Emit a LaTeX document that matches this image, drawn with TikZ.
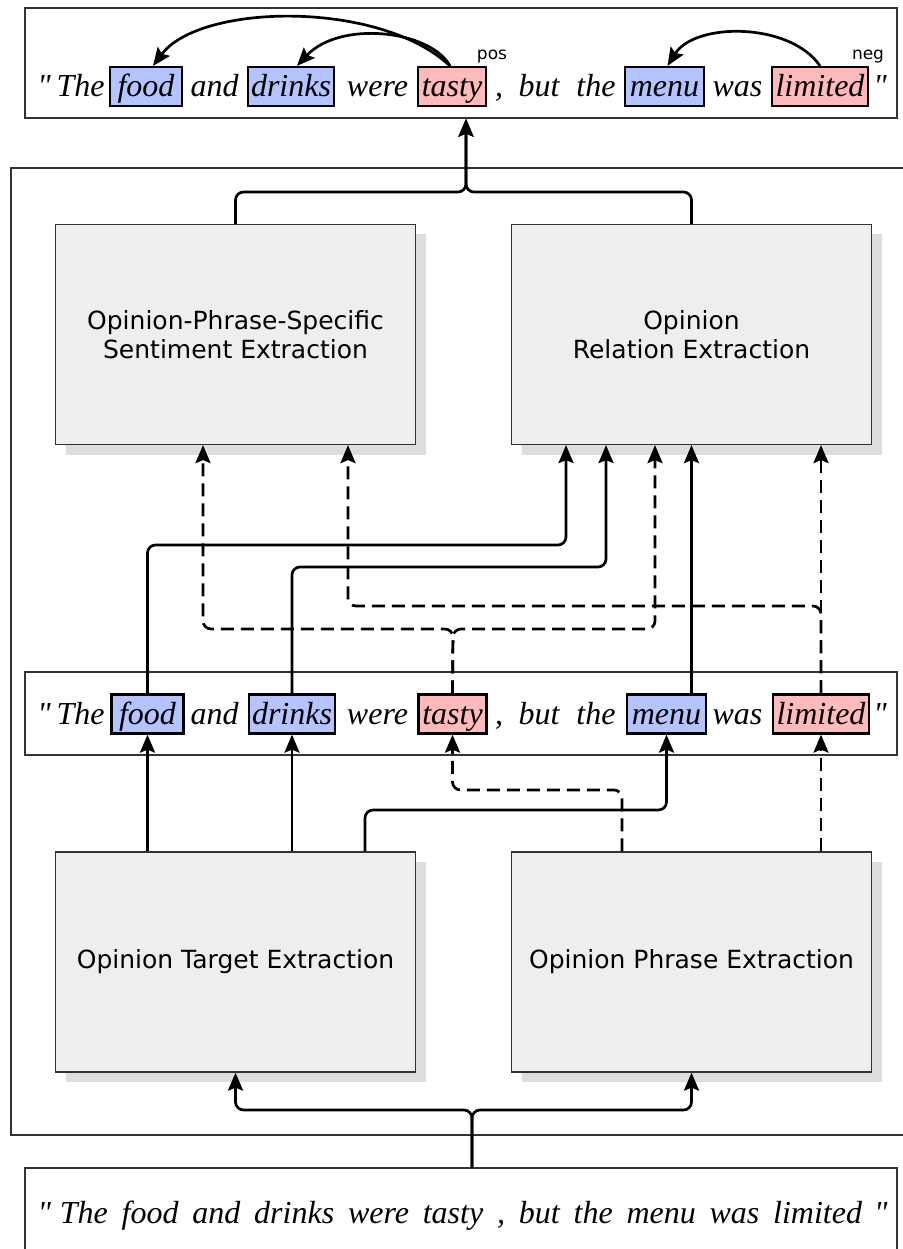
\documentclass[tikz,border=0pt]{standalone}
\usepackage{fontspec}
\setmainfont{Liberation Serif}[Ligatures=TeXOff]
\setsansfont{DejaVu Sans}
\usetikzlibrary{arrows.meta,shadows}
\definecolor{tgt}{HTML}{B4C4FF}
\definecolor{opn}{HTML}{FFBBBB}
\definecolor{procfill}{HTML}{EEEEEE}
\definecolor{shade}{HTML}{DDDDDD}
\definecolor{frm}{HTML}{333333}
\begin{document}
\begin{tikzpicture}[x=1pt,y=-1pt,
  word/.style={font=\itshape\fontsize{32}{36}\selectfont, text height=24pt, text depth=4pt, inner xsep=0pt, inner ysep=0pt},
  wbox/.style={word, draw=black, line width=2.2pt, minimum height=39pt},
  tbox/.style={wbox, fill=tgt},
  obox/.style={wbox, fill=opn},
  sent/.style={draw=frm, line width=1.3pt, fill=white},
  proc/.style={draw=frm, line width=1.2pt, fill=procfill, minimum width=360pt, minimum height=220pt,
    font=\sffamily\fontsize{25}{29}\selectfont, align=center,
    general shadow={fill=shade, shadow xshift=10pt, shadow yshift=-10pt}},
  tag/.style={font=\sffamily\fontsize{17}{20}\selectfont, inner sep=0pt, anchor=base},
  conn/.style={line width=2.7pt, rounded corners=8pt, -{Stealth[length=18pt,width=15pt,inset=3pt]}},
  dconn/.style={conn, dash pattern=on 13pt off 7pt},
  arc/.style={line width=2.7pt, -{Stealth[length=18pt,width=15pt,inset=3pt]}}
]
\useasboundingbox (0,0) rectangle (902,1249);

% outer container
\draw[draw=frm, line width=1.3pt] (915,168) -- (11,168) -- (11,1135) -- (915,1135);

% sentence frames
\node[sent, minimum width=872pt, minimum height=110pt] (topbox) at (461,63) {};
\node[sent, minimum width=872pt, minimum height=83pt] (midbox) at (461,713.5) {};
\node[sent, minimum width=872pt, minimum height=100pt] (botbox) at (461,1218) {};

% process boxes
\node[proc] (opsse) at (235.5,334.5) {Opinion-Phrase-Specific\\Sentiment Extraction};
\node[proc] (ore) at (691.5,334.5) {Opinion\\Relation Extraction};
\node[proc] (ote) at (235.5,962) {Opinion Target Extraction};
\node[proc] (ope) at (691.5,962) {Opinion Phrase Extraction};

% top sentence
\node[word] (t0) at (44,86.5) {"};
\node[word] (t1) at (80.5,86.5) {The};
\node[tbox, minimum width=72pt] (tfood) at (146,86.5) {food};
\node[word] (t2) at (214.5,86.5) {and};
\node[tbox, minimum width=86pt] (tdrinks) at (291,86.5) {drinks};
\node[word] (t3) at (377.5,86.5) {were};
\node[obox, minimum width=68pt] (ttasty) at (452,86.5) {tasty};
\node[word] (t4) at (499,86.5) {,};
\node[word] (t5) at (539,86.5) {but};
\node[word] (t6) at (596,86.5) {the};
\node[tbox, minimum width=79pt] (tmenu) at (664.5,86.5) {menu};
\node[word] (t7) at (737.5,86.5) {was};
\node[obox, minimum width=96pt] (tlimited) at (820,86.5) {limited};
\node[word] (t8) at (880,86.5) {"};
\node[tag] (pos) at (492,60) {pos};
\node[tag] (neg) at (868,60) {neg};

\draw[arc] ([xshift=-2pt]ttasty.north) .. controls (380,0) and (200,3) .. ([xshift=7pt]tfood.north);
\draw[arc] ([xshift=-2pt]ttasty.north) .. controls (430,30) and (340,20) .. ([xshift=6pt]tdrinks.north);
\draw[arc] (tlimited.north) .. controls (790,22) and (695,22) .. ([xshift=3pt]tmenu.north);

% middle sentence
\node[word] (m0) at (44,714) {"};
\node[word] (m1) at (80.5,714) {The};
\node[tbox, minimum width=72pt] (mfood) at (147.5,714) {food};
\node[word] (m2) at (214.5,714) {and};
\node[tbox, minimum width=86pt] (mdrinks) at (292,714) {drinks};
\node[word] (m3) at (377.5,714) {were};
\node[obox, minimum width=68pt] (mtasty) at (452.5,714) {tasty};
\node[word] (m4) at (499,714) {,};
\node[word] (m5) at (539,714) {but};
\node[word] (m6) at (596,714) {the};
\node[tbox, minimum width=79pt] (mmenu) at (666.5,714) {menu};
\node[word] (m7) at (737.5,714) {was};
\node[obox, minimum width=96pt] (mlimited) at (821,714) {limited};
\node[word] (m8) at (880,714) {"};

% bottom sentence
\node[word] (bsent) at (462.5,1213) {"\hspace{9pt}The\hspace{13.8pt}food\hspace{13.8pt}and\hspace{13.8pt}drinks\hspace{13.8pt}were\hspace{13.8pt}tasty\hspace{13.8pt},\hspace{13.8pt}but\hspace{13.8pt}the\hspace{13.8pt}menu\hspace{13.8pt}was\hspace{13.8pt}limited\hspace{12pt}"};

% top fork
\coordinate (fj) at (466,192);
\draw[conn] (opsse.north) |- (fj) -- (fj |- topbox.south);
\draw[conn] (ore.north) |- (fj) -- (fj |- topbox.south);

% bottom fork
\coordinate (bj) at (472,1110);
\draw[conn] (bj |- botbox.north) -- (bj) -| (ote.south);
\draw[conn] (bj |- botbox.north) -- (bj) -| (ope.south);

% middle -> upper boxes (solid)
\draw[conn] (mfood.north) |- (566,545) -- (566,0 |- ore.south);
\draw[conn] (mdrinks.north) |- (606,567) -- (606,0 |- ore.south);
\draw[conn] (ore.south |- mmenu.north) -- (ore.south);

% middle -> upper boxes (dashed)
\coordinate (tj) at (453,629);
\draw[dconn] (mtasty.north) -- (tj) -| (203,0 |- opsse.south);
\draw[dconn] (mtasty.north) -- (tj) -| (655,0 |- ore.south);
\draw[dconn] (mlimited.north) -- (mlimited.north |- ore.south);
\draw[dconn] (mlimited.north) |- (348,606) -- (348,0 |- opsse.south);

% lower boxes -> middle sentence
\draw[conn] (ote.north -| mfood.south) -- (mfood.south);
\draw[conn] (ote.north -| mdrinks.south) -- (mdrinks.south);
\draw[conn] (365,0 |- ote.north) |- (mmenu.south |- 0,810) -- (mmenu.south);
\draw[dconn] (622,0 |- ope.north) |- (mtasty.south |- 0,790) -- (mtasty.south);
\draw[dconn] (ope.north -| mlimited.south) -- (mlimited.south);
\end{tikzpicture}
\end{document}
